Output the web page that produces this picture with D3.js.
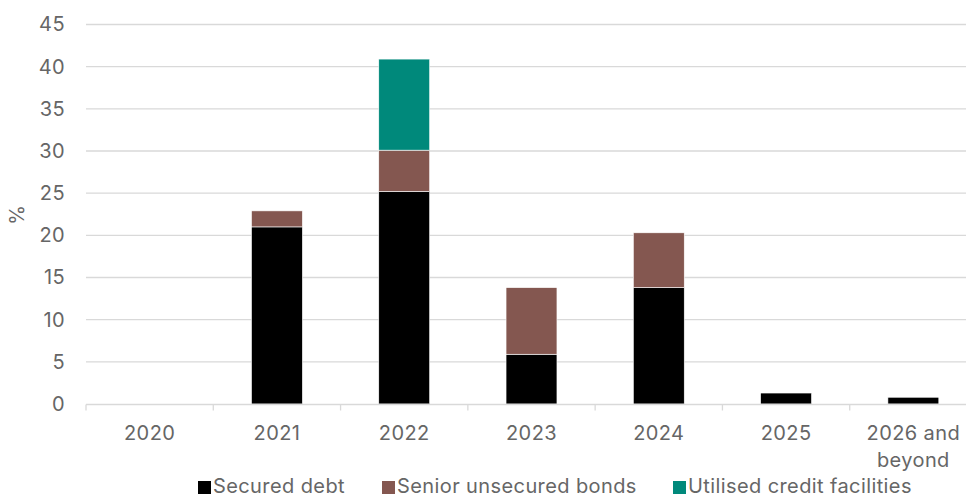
<!DOCTYPE html>
<html>
<head>
<meta charset="utf-8">
<script src="https://cdn.jsdelivr.net/npm/d3@7"></script>
<style>
  html, body { margin: 0; padding: 0; background: #fff; }
  svg { display: block; font-family: Inter, "Liberation Sans", sans-serif; }
</style>
</head>
<body>
<svg id="chart" width="966" height="497"></svg>
<script>
// Maturity profile by year, % of total debt
const categories = ["2020", "2021", "2022", "2023", "2024", "2025", "2026 and beyond"];
const securedDebt = [0, 21.0, 25.2, 5.9, 13.8, 1.3, 0.8];
const seniorUnsecuredBonds = [0, 1.9, 4.9, 7.9, 6.5, 0, 0];
const utilisedCreditFacilities = [0, 0, 10.8, 0, 0, 0, 0];
const seriesNames = ["Secured debt", "Senior unsecured bonds", "Utilised credit facilities"];
const seriesColors = ["#000000", "#845750", "#00897b"];
const yTicks = [0, 5, 10, 15, 20, 25, 30, 35, 40, 45];

const svg = d3.select("#chart");
const textColor = "#666666";
const gridColor = "#d9d9d9";
const fontSize = "20px";

const rows = categories.map((c, i) => ({
  cat: c,
  s0: securedDebt[i],
  s1: seniorUnsecuredBonds[i],
  s2: utilisedCreditFacilities[i]
}));
const stack = d3.stack().keys(["s0", "s1", "s2"])(rows);

const x = d3.scaleBand().domain(categories).range([86, 977])
  .paddingInner(0.6).paddingOuter(0.3);
const y = d3.scaleLinear().domain([0, 45]).range([404, 24.5]);

// horizontal gridlines
svg.append("g")
  .selectAll("line")
  .data(yTicks.filter(t => t > 0))
  .join("line")
  .attr("x1", 86).attr("x2", 966)
  .attr("y1", d => y(d)).attr("y2", d => y(d))
  .attr("stroke", gridColor).attr("stroke-width", 1.3);

// y axis labels
const yAxis = svg.append("g")
  .attr("transform", "translate(86,0)")
  .call(d3.axisLeft(y).tickValues(yTicks).tickSize(0).tickPadding(21));
yAxis.select(".domain").remove();
yAxis.selectAll("text")
  .attr("fill", textColor)
  .style("font-size", fontSize)
  .style("letter-spacing", "0.4px")
  .style("font-family", "Inter, 'Liberation Sans', sans-serif");

// axis title
svg.append("text")
  .attr("transform", "translate(24,215) rotate(-90)")
  .attr("text-anchor", "middle")
  .attr("fill", textColor)
  .style("font-size", fontSize)
  .text("%");

// stacked bars
svg.append("g")
  .selectAll("g")
  .data(stack)
  .join("g")
  .attr("fill", (d, i) => seriesColors[i])
  .selectAll("rect")
  .data(d => d.filter(p => p[1] - p[0] > 0))
  .join("rect")
  .attr("x", d => x(d.data.cat))
  .attr("width", x.bandwidth())
  .attr("y", d => y(d[1]))
  .attr("height", d => y(d[0]) - y(d[1]))
  .attr("stroke", "#ffffff")
  .attr("stroke-width", 0.6);

// x axis
const xAxisG = svg.append("g")
  .attr("transform", "translate(0,404.5)")
  .call(d3.axisBottom(x).tickSize(0).tickPadding(0));
xAxisG.select(".domain").remove();
xAxisG.selectAll(".tick text").remove();
xAxisG.append("line")
  .attr("x1", 86).attr("x2", 966)
  .attr("stroke", gridColor).attr("stroke-width", 1.3);
// boundary ticks between categories
const bounds = categories.map(c => x(c) - x.step() * x.paddingInner() / 2);
xAxisG.selectAll(".sep")
  .data(bounds)
  .join("line")
  .attr("class", "sep")
  .attr("x1", d => d).attr("x2", d => d)
  .attr("y1", 0).attr("y2", 6)
  .attr("stroke", gridColor).attr("stroke-width", 1.3);

// category labels (wrapped)
const catLines = { "2026 and beyond": ["2026 and", "beyond"] };
const labels = svg.append("g")
  .selectAll("text")
  .data(categories)
  .join("text")
  .attr("x", d => x(d) + x.bandwidth() / 2)
  .attr("y", 440)
  .attr("text-anchor", "middle")
  .attr("fill", textColor)
  .style("font-size", fontSize)
  .style("letter-spacing", "0.4px");
labels.each(function(d) {
  const lines = catLines[d] || [d];
  d3.select(this).selectAll("tspan")
    .data(lines)
    .join("tspan")
    .attr("x", x(d) + x.bandwidth() / 2)
    .attr("dy", (l, i) => i === 0 ? 0 : 27)
    .text(l => l);
});

// legend
const legendX = [198, 382, 673];
const legend = svg.append("g");
seriesNames.forEach((name, i) => {
  const g = legend.append("g").attr("transform", `translate(${legendX[i]},0)`);
  g.append("rect")
    .attr("x", 0).attr("y", 481)
    .attr("width", 13).attr("height", 13)
    .attr("fill", seriesColors[i]);
  g.append("text")
    .attr("x", 15).attr("y", 493)
    .attr("fill", textColor)
    .style("font-size", fontSize)
    .style("letter-spacing", "0.4px")
    .text(name);
});
</script>
</body>
</html>
